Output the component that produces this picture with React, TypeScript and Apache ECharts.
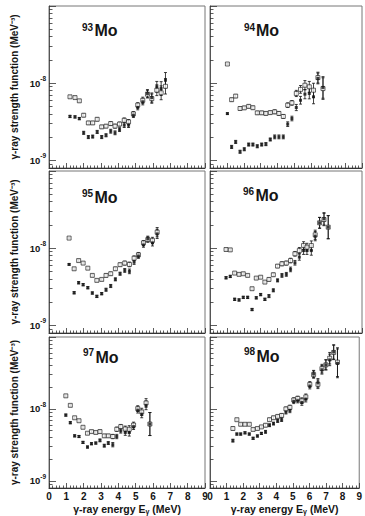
import React, { useEffect, useRef } from 'react';
import * as echarts from 'echarts';

// Values in units of 1e-9 MeV^-3
const UNIT_EXP = -9;

const E93 = [1.21, 1.50, 1.75, 2.00, 2.27, 2.52, 2.78, 3.04, 3.29, 3.56, 3.81, 4.07, 4.34, 4.59, 4.87, 5.12, 5.41, 5.68, 5.93, 6.22, 6.47, 6.72];
const open93 = [6.65, 6.5, 5.9, 3.84, 3.05, 3.05, 3.4, 2.71, 2.77, 2.99, 2.77, 2.95, 3.3, 3.15, 4.0, 5.2, 6.0, 7.2, 6.3, 8.1, 7.5, 9.1];
const filled93 = [3.7, 3.65, 3.47, 2.27, 2.0, 2.03, 2.33, 2.0, 2.11, 2.38, 2.27, 2.5, 2.85, 2.85, 3.84, 4.83, 5.73, 7.35, 6.5, 8.96, 8.5, 10.9];
const err93 = [0.015, 0.015, 0.015, 0.02, 0.02, 0.02, 0.02, 0.02, 0.02, 0.025, 0.025, 0.025, 0.03, 0.03, 0.03, 0.03, 0.04, 0.05, 0.06, 0.07, 0.09, 0.1];

const E94 = [1.03, 1.28, 1.52, 1.78, 2.03, 2.29, 2.54, 2.80, 3.06, 3.31, 3.57, 3.83, 4.08, 4.34, 4.60, 4.85, 5.11, 5.36, 5.62, 5.88, 6.13, 6.39, 6.69];
const open94 = [17.7, 6.1, 6.8, 4.69, 4.78, 5.0, 4.8, 4.12, 4.12, 4.05, 4.15, 4.25, 4.05, 3.7, 5.18, 5.55, 7.35, 8.3, 9.4, 8.96, 8.1, 11.8, 8.5];
const filled94 = [4.03, 1.49, 1.73, 1.29, 1.39, 1.6, 1.6, 1.52, 1.6, 1.62, 1.86, 2.01, 2.01, 2.01, 2.94, 3.48, 4.83, 6.0, 7.2, 7.35, 6.65, 11.5, 8.8];
const err94 = [0.01, 0.02, 0.02, 0.02, 0.02, 0.02, 0.02, 0.02, 0.02, 0.02, 0.02, 0.025, 0.025, 0.025, 0.03, 0.03, 0.04, 0.05, 0.06, 0.07, 0.09, 0.07, 0.14];

const E95 = [1.16, 1.45, 1.71, 1.97, 2.24, 2.50, 2.76, 3.04, 3.29, 3.56, 3.83, 4.10, 4.37, 4.64, 4.91, 5.16, 5.45, 5.70, 5.97, 6.24];
const open95 = [13.5, 5.4, 6.9, 6.4, 5.5, 4.43, 3.82, 3.93, 4.43, 4.66, 5.4, 6.1, 6.4, 6.15, 7.4, 8.2, 11.7, 12.9, 12.6, 16.1];
const filled95 = [6.15, 2.64, 3.56, 3.36, 3.07, 2.62, 2.37, 2.57, 2.89, 3.23, 3.94, 4.66, 5.14, 5.0, 6.6, 7.9, 11.0, 13.2, 11.7, 15.3];
const err95 = [0.01, 0.015, 0.015, 0.015, 0.015, 0.015, 0.015, 0.015, 0.02, 0.02, 0.02, 0.02, 0.025, 0.03, 0.03, 0.03, 0.03, 0.035, 0.04, 0.06];

const E96 = [0.95, 1.20, 1.46, 1.72, 1.97, 2.23, 2.49, 2.74, 3.00, 3.25, 3.49, 3.75, 4.00, 4.26, 4.52, 4.77, 5.03, 5.29, 5.54, 5.74, 6.00, 6.23, 6.49, 6.75, 7.00];
const open96 = [9.6, 9.5, 4.75, 4.57, 4.66, 4.43, 2.98, 4.09, 4.2, 3.63, 3.93, 4.52, 5.85, 6.27, 6.4, 6.9, 8.45, 9.3, 10.8, 10.3, 10.8, 14.9, 21.3, 23.5, 18.7];
const filled96 = [4.13, 4.3, 2.17, 2.13, 2.3, 2.3, 1.6, 2.27, 2.5, 2.17, 2.39, 2.84, 3.82, 4.43, 4.57, 5.3, 6.46, 7.65, 9.3, 9.3, 9.3, 14.3, 21.3, 24.0, 18.7];
const err96 = [0.015, 0.015, 0.015, 0.015, 0.015, 0.015, 0.015, 0.015, 0.015, 0.015, 0.02, 0.02, 0.02, 0.025, 0.025, 0.03, 0.03, 0.04, 0.05, 0.05, 0.06, 0.06, 0.07, 0.08, 0.15];

const E97 = [0.97, 1.23, 1.48, 1.73, 1.96, 2.22, 2.45, 2.70, 2.94, 3.19, 3.42, 3.68, 3.91, 4.14, 4.40, 4.63, 4.88, 5.12, 5.35, 5.60, 5.82];
const open97 = [15.2, 11.2, 7.53, 6.85, 5.55, 4.59, 4.84, 4.7, 4.84, 4.22, 4.22, 4.13, 5.21, 5.67, 5.26, 5.21, 5.97, 10.1, 9.1, 12.1, 6.16];
const filled97 = [8.2, 6.43, 4.22, 4.13, 3.42, 2.95, 3.28, 3.35, 3.65, 3.08, 3.35, 3.18, 4.13, 4.94, 4.7, 4.7, 5.67, 9.6, 8.45, 11.2, 6.16];
const err97 = [0.015, 0.015, 0.015, 0.015, 0.015, 0.015, 0.015, 0.015, 0.02, 0.02, 0.02, 0.03, 0.03, 0.03, 0.04, 0.05, 0.04, 0.04, 0.05, 0.06, 0.16];

const E98 = [1.38, 1.62, 1.85, 2.11, 2.37, 2.60, 2.86, 3.10, 3.35, 3.59, 3.83, 4.08, 4.32, 4.58, 4.82, 5.05, 5.29, 5.54, 5.78, 6.02, 6.25, 6.51, 6.75, 6.99, 7.22, 7.46, 7.69];
const open98 = [5.34, 7.08, 6.11, 6.11, 6.11, 5.18, 5.34, 5.62, 5.93, 7.08, 7.53, 7.86, 8.12, 10.0, 10.5, 13.3, 14.0, 13.0, 14.7, 21.9, 30.0, 22.0, 36.3, 41.0, 50.7, 61.0, 44.7];
const filled98 = [3.62, 4.47, 4.47, 4.65, 4.47, 3.9, 4.2, 4.56, 4.8, 5.93, 6.25, 6.8, 7.08, 9.0, 9.5, 12.7, 13.0, 12.3, 13.7, 20.8, 30.6, 23.0, 35.0, 41.0, 48.0, 62.0, 43.0];
const err98 = [0.02, 0.015, 0.015, 0.015, 0.015, 0.015, 0.015, 0.015, 0.02, 0.02, 0.02, 0.02, 0.025, 0.025, 0.03, 0.03, 0.03, 0.04, 0.04, 0.04, 0.05, 0.06, 0.06, 0.07, 0.08, 0.1, 0.2];

const massNumbers = ['93', '94', '95', '96', '97', '98'];
const yMajorLabels = [-9, -8];
const X_MIN = 0, X_MAX = 9;
const Y_MIN = -9.1, Y_MAX = -7;

const panelData = [
  { E: E93, open: open93, filled: filled93, err: err93 },
  { E: E94, open: open94, filled: filled94, err: err94 },
  { E: E95, open: open95, filled: filled95, err: err95 },
  { E: E96, open: open96, filled: filled96, err: err96 },
  { E: E97, open: open97, filled: filled97, err: err97 },
  { E: E98, open: open98, filled: filled98, err: err98 },
];

const FONT = '"Liberation Sans", Arial, sans-serif';
const INK = '#151515';

function toLog(v: number) {
  return Math.log10(v) + UNIT_EXP;
}

function buildOption() {
  const grids = [
    { left: 49, top: 6, width: 156, height: 162 },
    { left: 210, top: 6, width: 152, height: 162 },
    { left: 49, top: 171, width: 156, height: 162 },
    { left: 210, top: 171, width: 152, height: 162 },
    { left: 49, top: 337, width: 156, height: 153 },
    { left: 210, top: 337, width: 152, height: 153 },
  ];
  const minorTicks: number[] = [];
  for (let n = -10; n <= -8; n++) {
    for (let k = 2; k <= 9; k++) {
      const v = Math.log10(k) + n;
      if (v > Y_MIN && v < Y_MAX) minorTicks.push(v);
    }
  }
  const majorTicks = [-9, -8, -7];

  const xAxes: any[] = [];
  const yAxes: any[] = [];
  const series: any[] = [];

  grids.forEach((g, i) => {
    const isLeft = i % 2 === 0;
    const isBottom = i >= 4;
    xAxes.push({
      gridIndex: i,
      type: 'value',
      min: X_MIN,
      max: X_MAX,
      interval: 1,
      axisLine: { show: true, lineStyle: { color: '#333', width: 1 } },
      axisTick: { show: true, inside: true, length: 5, lineStyle: { color: '#333', width: 0.8 } },
      minorTick: { show: true, splitNumber: 5, length: 2.5, lineStyle: { color: '#333', width: 0.8 } },
      splitLine: { show: false },
      axisLabel: {
        show: isBottom,
        showMinLabel: true,
        showMaxLabel: true,
        margin: 3,
        fontSize: 10,
        fontWeight: 'bold',
        fontFamily: FONT,
        color: INK,
      },
      name: isBottom ? '{t|γ-ray energy E}{s|γ}{t| (MeV)}' : '',
      nameLocation: 'middle',
      nameGap: 14,
      nameTextStyle: {
        fontFamily: FONT,
        color: INK,
        rich: {
          t: { fontSize: 10.5, fontWeight: 'bold', fontFamily: FONT, color: INK, lineHeight: 13 },
          s: { fontSize: 7, fontWeight: 'bold', fontFamily: FONT, color: INK, lineHeight: 8, verticalAlign: 'bottom' },
        },
      },
    });
    yAxes.push({
      gridIndex: i,
      type: 'value',
      position: 'left',
      min: Y_MIN,
      max: Y_MAX,
      axisLine: { show: true, lineStyle: { color: '#555', width: 1 } },
      axisTick: { show: true, inside: true, length: 7, customValues: majorTicks, lineStyle: { color: '#333', width: 0.8 } },
      splitLine: { show: false },
      axisLabel: {
        show: isLeft,
        customValues: yMajorLabels,
        margin: 3,
        formatter: (v: number) => `{b|10}{s|${Math.round(v)}}`,
        rich: {
          b: { fontSize: 9.5, fontWeight: 'bold', fontFamily: FONT, color: INK, lineHeight: 16 },
          s: { fontSize: 6.5, fontWeight: 'bold', fontFamily: FONT, color: INK, lineHeight: 8, verticalAlign: 'top' },
        },
      },
      name: isLeft ? 'γ-ray strength function (MeV⁻³)' : '',
      nameLocation: 'middle',
      nameGap: 30,
      nameTextStyle: { fontSize: 10, fontWeight: 'bold', fontFamily: FONT, color: INK },
    });
    yAxes.push({
      gridIndex: i,
      type: 'value',
      position: 'left',
      offset: 0,
      min: Y_MIN,
      max: Y_MAX,
      axisLine: { show: false },
      axisTick: { show: true, inside: true, length: 3.5, customValues: minorTicks, lineStyle: { color: '#333', width: 0.8 } },
      axisLabel: { show: false },
      splitLine: { show: false },
    });

    const p = panelData[i];
    const openPts = p.E.map((e, j) => [e, toLog(p.open[j]), p.err[j]]);
    const filledPts = p.E.map((e, j) => [e, toLog(p.filled[j]), p.err[j]]);
    const errRender = (params: any, api: any) => {
      const x = api.value(0);
      const y = api.value(1);
      const e = api.value(2);
      const lo = api.coord([x, y - e]);
      const hi = api.coord([x, y + e]);
      const st = { stroke: '#111', lineWidth: 0.8 };
      return {
        type: 'group',
        children: [
          { type: 'line', shape: { x1: lo[0], y1: lo[1], x2: hi[0], y2: hi[1] }, style: st },
          { type: 'line', shape: { x1: lo[0] - 1.5, y1: lo[1], x2: lo[0] + 1.5, y2: lo[1] }, style: st },
          { type: 'line', shape: { x1: hi[0] - 1.5, y1: hi[1], x2: hi[0] + 1.5, y2: hi[1] }, style: st },
        ],
      };
    };
    [openPts, filledPts].forEach((pts) => {
      series.push({
        type: 'custom',
        xAxisIndex: i,
        yAxisIndex: i * 2,
        dimensions: ['x', 'y', 'e'],
        encode: { x: 0, y: 1 },
        data: pts,
        renderItem: errRender,
        silent: true,
        z: 2,
      });
    });
    series.push({
      type: 'scatter',
      xAxisIndex: i,
      yAxisIndex: i * 2,
      data: openPts.map((d) => [d[0], d[1]]),
      symbol: 'rect',
      symbolSize: 4,
      itemStyle: { color: '#fff', borderColor: '#111', borderWidth: 0.8 },
      z: 3,
    });
    series.push({
      type: 'scatter',
      xAxisIndex: i,
      yAxisIndex: i * 2,
      data: filledPts.map((d) => [d[0], d[1]]),
      symbol: 'rect',
      symbolSize: 3,
      itemStyle: { color: '#111' },
      z: 4,
    });
  });

  const labelPos = [
    { x: 82, y: 27.5, mx: 94.5, my: 30.5 },
    { x: 244, y: 27.5, mx: 256, my: 30.5 },
    { x: 82, y: 193.5, mx: 94.5, my: 197 },
    { x: 243, y: 191.5, mx: 255.5, my: 195.5 },
    { x: 83, y: 352.5, mx: 95.5, my: 357 },
    { x: 244, y: 351, mx: 256.5, my: 356.5 },
  ];
  const graphic: any[] = [];
  massNumbers.forEach((m, i) => {
    const lp = labelPos[i];
    graphic.push({
      type: 'text',
      x: lp.x,
      y: lp.y,
      style: { text: m, fontSize: 10, fontWeight: 'bold', fontFamily: FONT, fill: INK, verticalAlign: 'middle' },
    });
    graphic.push({
      type: 'text',
      x: lp.mx,
      y: lp.my,
      style: { text: 'Mo', fontSize: 16, fontWeight: 'bold', fontFamily: FONT, fill: INK, verticalAlign: 'middle' },
    });
  });

  return {
    animation: false,
    backgroundColor: '#fff',
    grid: grids.map((g) => ({ ...g, show: true, borderColor: '#777', borderWidth: 1, backgroundColor: 'transparent' })),
    xAxis: xAxes,
    yAxis: yAxes,
    series,
    graphic,
  };
}

export default function App() {
  const ref = useRef<HTMLDivElement>(null);
  useEffect(() => {
    if (!ref.current) return;
    const chart = echarts.init(ref.current, undefined, { renderer: 'svg' });
    chart.setOption(buildOption() as any);
    return () => chart.dispose();
  }, []);
  return (
    <div
      ref={ref}
      style={{ position: 'absolute', left: 0, top: 0, width: 365, height: 516, background: '#fff' }}
    />
  );
}
